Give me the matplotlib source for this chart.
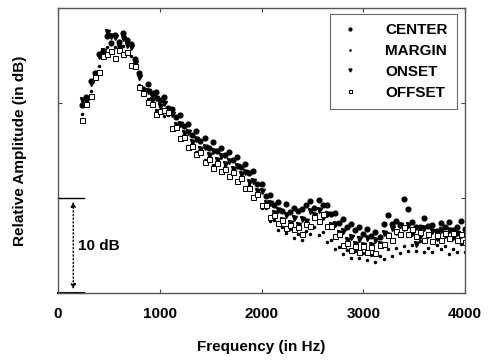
import matplotlib
matplotlib.use("Agg")
import matplotlib.pyplot as plt
import numpy as np

plt.rcParams['font.family'] = ['Liberation Sans', 'DejaVu Sans']
plt.rcParams['font.weight'] = 'bold'

# frequency bins (Hz)
freq = np.arange(240, 4001, 40)

center = [19.8, 20.6, 22.3, 23.2, 25.1, 25.5, 27.0, 26.3, 27.2, 26.4, 27.4, 26.6, 26.2, 24.6, 23.1, 21.5, 22.0, 21.0, 21.2, 20.3,
          20.6, 19.5, 19.4, 18.5, 18.7, 17.6, 17.8, 16.6, 17.1, 16.0, 16.3, 15.3, 15.9, 14.9, 15.3, 14.5, 14.8, 14.0, 14.3, 13.3,
          13.6, 12.6, 12.8, 11.5, 11.5, 10.2, 10.3, 9.3, 9.6, 8.6, 9.4, 8.5, 8.9, 8.6, 8.8, 9.3, 9.7, 8.9, 9.8, 9.3,
          9.3, 8.3, 8.4, 7.4, 7.8, 7.0, 7.3, 6.6, 7.0, 6.2, 6.7, 6.0, 6.4, 5.9, 7.3, 8.2, 7.3, 7.6, 7.2, 9.9,
          8.8, 7.5, 7.0, 6.9, 7.9, 7.1, 7.2, 6.5, 7.4, 7.0, 7.5, 6.6, 6.9, 7.6, 6.7]

margin = [18.8, 20.6, 21.3, 23.3, 23.9, 25.6, 25.9, 26.4, 25.9, 26.5, 26.0, 26.2, 24.9, 24.5, 21.9, 21.3, 20.4, 20.6, 19.3, 19.7,
          18.6, 18.7, 17.2, 17.6, 16.4, 16.7, 15.5, 15.7, 14.8, 15.1, 14.0, 14.4, 13.5, 13.9, 12.9, 13.4, 12.4, 12.8, 11.8, 12.2,
          11.2, 11.4, 10.2, 10.3, 8.9, 8.9, 7.6, 7.7, 6.6, 7.0, 6.3, 6.7, 5.8, 6.2, 5.6, 6.5, 6.2, 6.9, 6.1, 6.4,
          5.4, 5.6, 4.6, 4.8, 4.1, 4.5, 3.7, 4.4, 3.7, 4.2, 3.5, 4.0, 3.3, 3.9, 3.6, 4.6, 3.9, 4.7, 4.2, 4.9,
          4.4, 5.1, 4.4, 5.5, 4.3, 4.7, 4.3, 5.1, 4.6, 5.0, 4.1, 4.6, 4.3, 5.2, 4.3]

onset = [20.3, 20.2, 22.1, 22.9, 24.9, 25.5, 27.5, 27.0, 26.9, 25.9, 26.8, 26.1, 25.9, 24.2, 22.7, 21.1, 21.3, 20.3, 20.5, 19.7,
         20.0, 18.9, 18.8, 17.7, 17.8, 16.8, 16.9, 15.9, 16.2, 15.2, 15.4, 14.5, 14.9, 14.0, 14.4, 13.6, 13.9, 13.1, 13.4, 12.5,
         12.7, 11.7, 11.8, 10.7, 10.7, 9.5, 9.5, 8.4, 8.7, 7.7, 8.2, 7.4, 7.9, 7.2, 7.8, 7.6, 8.6, 8.2, 8.7, 8.0,
         8.3, 7.2, 7.3, 6.3, 6.5, 5.6, 5.9, 5.2, 5.7, 5.1, 5.8, 5.1, 5.6, 5.2, 6.3, 6.1, 6.8, 6.4, 7.2, 6.8,
         7.2, 6.3, 5.2, 6.0, 6.8, 6.1, 6.5, 5.8, 6.6, 6.1, 6.6, 5.9, 6.3, 6.1, 6.4]

offset = [18.2, 19.9, 20.7, 22.7, 23.3, 24.9, 25.1, 25.5, 24.7, 25.6, 25.2, 25.4, 24.0, 23.9, 21.7, 21.1, 20.1, 19.9, 18.8, 19.2,
          19.3, 19.1, 17.4, 17.5, 16.3, 16.4, 15.4, 15.5, 14.6, 14.8, 13.8, 14.1, 13.2, 13.7, 12.8, 13.1, 12.3, 12.7, 11.8, 12.1,
          11.0, 11.1, 10.1, 10.4, 9.3, 9.3, 8.0, 8.2, 7.4, 7.7, 6.8, 7.2, 6.7, 6.9, 6.2, 7.3, 7.1, 8.0, 7.6, 8.3,
          7.1, 7.1, 6.0, 6.2, 5.1, 5.3, 4.5, 5.0, 4.3, 5.0, 4.3, 4.8, 4.2, 5.1, 5.2, 6.1, 5.6, 6.5, 6.2, 6.9,
          6.2, 6.7, 6.0, 6.4, 5.6, 6.2, 5.5, 6.1, 5.6, 6.3, 5.8, 6.3, 5.6, 6.2, 5.4]

fig = plt.figure(figsize=(4.89, 3.6), dpi=100)
ax = fig.add_axes([0.1186, 0.186, 0.8324, 0.792])

ax.plot(freq, center, linestyle='none', marker='o', markersize=3.4, color='black', label='CENTER')
ax.plot(freq, margin, linestyle='none', marker='.', markersize=3, color='black', label='MARGIN')
ax.plot(freq, onset, linestyle='none', marker='v', markersize=3.6, color='black', label='ONSET')
ax.plot(freq, offset, linestyle='none', marker='s', markersize=3.6, markerfacecolor='white',
        markeredgecolor='black', markeredgewidth=0.7, label='OFFSET')

# 10 dB scale bar
ax.plot([0, 260], [10, 10], color='black', lw=1, clip_on=False)
ax.plot([0, 260], [0, 0], color='black', lw=1.5, clip_on=False)
ax.annotate('', xy=(150, 0.1), xytext=(150, 9.9),
            arrowprops=dict(arrowstyle='<|-|>', linestyle=':', color='black', lw=1,
                            mutation_scale=7))
ax.text(200, 5, '10 dB', fontsize=11, fontweight='bold', va='center', ha='left')

ax.set_xlim(0, 4000)
ax.set_ylim(0, 30)
ax.set_xticks([0, 1000, 2000, 3000, 4000])
ax.set_yticks([0, 10, 20, 30])
ax.set_yticklabels([])
ax.tick_params(direction='in', length=3, top=True, right=True, labelsize=11, color='#444444', pad=10)
for s in ax.spines.values():
    s.set_color('#555555')
    s.set_linewidth(1)

ax.set_xlabel('Frequency (in Hz)', fontsize=11, fontweight='bold')
ax.set_ylabel('Relative Amplitude (in dB)', fontsize=11, fontweight='bold')
ax.xaxis.set_label_coords(0.5, -0.165)
ax.yaxis.set_label_coords(-0.075, 0.5)

leg = ax.legend(loc='upper right', fontsize=11, frameon=True, fancybox=False, handletextpad=1.6,
                borderpad=0.6, labelspacing=0.45, markerscale=0.6, handlelength=1.4,
                borderaxespad=0, bbox_to_anchor=(0.980, 0.979))
leg.get_frame().set_edgecolor('#444444')
leg.get_frame().set_linewidth(0.8)
for t in leg.get_texts():
    t.set_fontweight('bold')

fig.savefig('out.png', dpi=100)
